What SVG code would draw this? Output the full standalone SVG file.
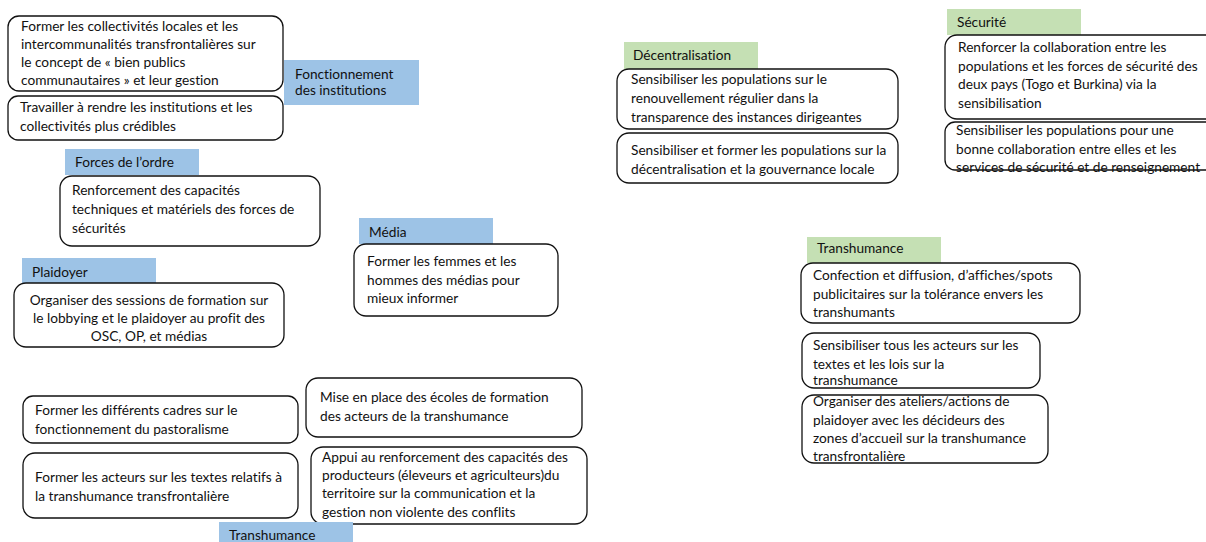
<svg xmlns="http://www.w3.org/2000/svg" width="1206" height="542" viewBox="0 0 1206 542">
<style>
text{font-family:Lato,"Liberation Sans",sans-serif;font-size:13.7px;fill:#111;font-variant-ligatures:none;font-feature-settings:"liga" 0,"dlig" 0}
.box{fill:#fff;stroke:#111;stroke-width:1.3}
.blue{fill:#9DC3E6}
.green{fill:#C5E0B4}
.c{text-anchor:middle}
</style>
<rect width="1206" height="542" fill="#fff"/>
<g id="connectors"/>
<g id="box-collectivites">
<rect class="box" x="8" y="16" width="275" height="75" rx="11"/>
<text x="21" y="31">Former les collectivités locales et les</text>
<text x="21" y="49">intercommunalités transfrontalières sur</text>
<text x="21" y="67">le concept de « bien publics</text>
<text x="21" y="85">communautaires » et leur gestion</text>
</g>
<g id="box-institutions">
<rect class="box" x="8" y="96" width="275" height="44" rx="10"/>
<text x="20" y="112">Travailler à rendre les institutions et les</text>
<text x="20" y="131">collectivités plus crédibles</text>
</g>
<g id="label-fonctionnement">
<rect class="blue" x="284" y="60" width="135" height="45"/>
<text x="295" y="79">Fonctionnement</text>
<text x="295" y="95">des institutions</text>
</g>
<g id="label-forces">
<rect class="blue" x="65" y="149" width="134" height="26"/>
<text x="75" y="167">Forces de l’ordre</text>
</g>
<g id="box-forces">
<rect class="box" x="60" y="176" width="260" height="70" rx="12"/>
<text x="72" y="195">Renforcement des capacités</text>
<text x="72" y="214">techniques et matériels des forces de</text>
<text x="72" y="233">sécurités</text>
</g>
<g id="label-plaidoyer">
<rect class="blue" x="22" y="258" width="134" height="26"/>
<text x="32" y="277">Plaidoyer</text>
</g>
<g id="box-plaidoyer">
<rect class="box" x="14" y="283" width="270" height="64" rx="12"/>
<text class="c" x="149" y="305">Organiser des sessions de formation sur</text>
<text class="c" x="149" y="323">le lobbying et le plaidoyer au profit des</text>
<text class="c" x="149" y="341">OSC, OP, et médias</text>
</g>
<g id="label-media">
<rect class="blue" x="359" y="218" width="134" height="26"/>
<text x="369" y="237">Média</text>
</g>
<g id="box-media">
<rect class="box" x="354" y="244" width="204" height="72" rx="12"/>
<text x="367" y="266">Former les femmes et les</text>
<text x="367" y="285">hommes des médias pour</text>
<text x="367" y="303">mieux informer</text>
</g>
<g id="box-cadres">
<rect class="box" x="23" y="396" width="275" height="47" rx="10"/>
<text x="35" y="415">Former les différents cadres sur le</text>
<text x="35" y="434">fonctionnement du pastoralisme</text>
</g>
<g id="box-acteurs-textes">
<rect class="box" x="23" y="453" width="275" height="65" rx="12"/>
<text x="35" y="482">Former les acteurs sur les textes relatifs à</text>
<text x="35" y="501">la transhumance transfrontalière</text>
</g>
<g id="box-ecoles">
<rect class="box" x="306" y="378" width="276" height="59" rx="12"/>
<text x="320" y="402">Mise en place des écoles de formation</text>
<text x="320" y="421">des acteurs de la transhumance</text>
</g>
<g id="box-appui">
<rect class="box" x="311" y="447" width="276" height="77" rx="12"/>
<text x="322" y="462">Appui au renforcement des capacités des</text>
<text x="322" y="480">producteurs (éleveurs et agriculteurs)du</text>
<text x="322" y="498">territoire sur la communication et la</text>
<text x="322" y="517">gestion non violente des conflits</text>
</g>
<g id="label-transhumance-bas">
<rect class="blue" x="219" y="522" width="134" height="26"/>
<text x="229" y="540">Transhumance</text>
</g>
<g id="label-decentralisation">
<rect class="green" x="624" y="42" width="134" height="27"/>
<text x="633" y="60">Décentralisation</text>
</g>
<g id="box-renouvellement">
<rect class="box" x="617" y="69" width="281" height="60" rx="12"/>
<text x="631" y="84">Sensibiliser les populations sur le</text>
<text x="631" y="103">renouvellement régulier dans la</text>
<text x="631" y="122">transparence des instances dirigeantes</text>
</g>
<g id="box-decentralisation">
<rect class="box" x="617" y="133" width="281" height="50" rx="12"/>
<text x="631" y="155">Sensibiliser et former les populations sur la</text>
<text x="631" y="174">décentralisation et la gouvernance locale</text>
</g>
<g id="label-securite">
<rect class="green" x="947" y="9" width="134" height="26"/>
<text x="957" y="27">Sécurité</text>
</g>
<g id="box-collaboration">
<rect class="box" x="945" y="35" width="275" height="84" rx="12"/>
<text x="958" y="52">Renforcer la collaboration entre les</text>
<text x="958" y="71">populations et les forces de sécurité des</text>
<text x="958" y="89">deux pays (Togo et Burkina) via la</text>
<text x="958" y="108">sensibilisation</text>
</g>
<g id="box-renseignement">
<rect class="box" x="945" y="122" width="275" height="48" rx="10"/>
<text x="956" y="135">Sensibiliser les populations pour une</text>
<text x="956" y="154">bonne collaboration entre elles et les</text>
<text x="956" y="172">services de sécurité et de renseignement</text>
</g>
<g id="label-transhumance-droite">
<rect class="green" x="807" y="237" width="134" height="26"/>
<text x="817" y="253">Transhumance</text>
</g>
<g id="box-affiches">
<rect class="box" x="801" y="263" width="279" height="60" rx="12"/>
<text x="813" y="280">Confection et diffusion, d’affiches/spots</text>
<text x="813" y="299">publicitaires sur la tolérance envers les</text>
<text x="813" y="317">transhumants</text>
</g>
<g id="box-lois">
<rect class="box" x="802" y="333" width="238" height="55" rx="12"/>
<text x="813" y="350">Sensibiliser tous les acteurs sur les</text>
<text x="813" y="369">textes et les lois sur la</text>
<text x="813" y="385">transhumance</text>
</g>
<g id="box-ateliers">
<rect class="box" x="802" y="395" width="246" height="68" rx="12"/>
<text x="813" y="406">Organiser des ateliers/actions de</text>
<text x="813" y="425">plaidoyer avec les décideurs des</text>
<text x="813" y="443">zones d’accueil sur la transhumance</text>
<text x="813" y="461">transfrontalière</text>
</g>
</svg>
